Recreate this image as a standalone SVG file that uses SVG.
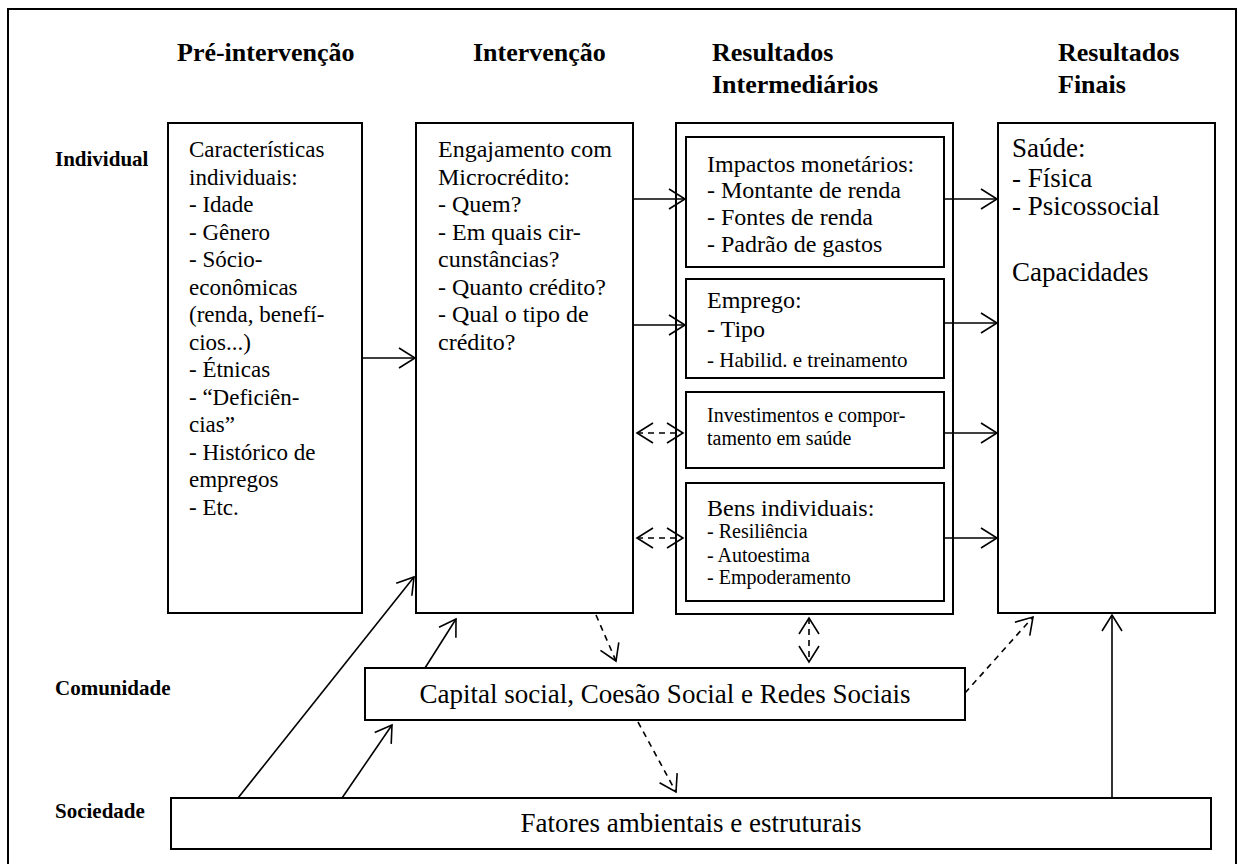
<svg xmlns="http://www.w3.org/2000/svg" width="1238" height="864" viewBox="0 0 1238 864">
<style>
text{font-family:"Liberation Serif","Times New Roman",Tinos,"DejaVu Serif","Noto Serif",serif;fill:#000}
.box{fill:#fff;stroke:#000;stroke-width:2}
.hd{font-weight:bold;font-size:26px}
.rl{font-weight:bold;font-size:21px}
.t{font-size:23px}
.m{font-size:24px}
.s{font-size:20px}
.l{font-size:27px}
.c{fill:none;stroke:#000;stroke-width:1.6}
.d{fill:none;stroke:#000;stroke-width:1.6;stroke-dasharray:6 5}
</style>
<defs>
<marker id="ah" markerUnits="userSpaceOnUse" markerWidth="20" markerHeight="24" refX="17" refY="11" orient="auto-start-reverse" viewBox="0 0 20 22">
<path d="M1,1 L17,11 L1,21" fill="none" stroke="#000" stroke-width="1.6"/>
</marker>
</defs>
<rect x="8" y="9" width="1228" height="870" fill="#fff" stroke="#000" stroke-width="2"/>

<g id="headers">
<text class="hd" x="177" y="61">Pré-intervenção</text>
<text class="hd" x="473" y="61">Intervenção</text>
<text class="hd" x="712" y="61">Resultados</text>
<text class="hd" x="712" y="93">Intermediários</text>
<text class="hd" x="1058" y="61">Resultados</text>
<text class="hd" x="1058" y="93">Finais</text>
</g>
<g id="row-labels">
<text class="rl" x="55" y="166">Individual</text>
<text class="rl" x="55" y="695">Comunidade</text>
<text class="rl" x="55" y="818">Sociedade</text>
</g>

<g id="pre">
<rect class="box" x="168" y="123" width="194" height="490"/>
<text class="t">
<tspan x="189" y="157">Características</tspan>
<tspan x="189" y="184.5">individuais:</tspan>
<tspan x="189" y="212">- Idade</tspan>
<tspan x="189" y="239.5">- Gênero</tspan>
<tspan x="189" y="267">- Sócio-</tspan>
<tspan x="189" y="294.5">econômicas</tspan>
<tspan x="189" y="322">(renda, benefí-</tspan>
<tspan x="189" y="349.5">cios...)</tspan>
<tspan x="189" y="377">- Étnicas</tspan>
<tspan x="189" y="404.5">- “Deficiên-</tspan>
<tspan x="189" y="432">cias”</tspan>
<tspan x="189" y="459.5">- Histórico de</tspan>
<tspan x="189" y="487">empregos</tspan>
<tspan x="189" y="514.5">- Etc.</tspan>
</text>
</g>

<g id="intervencao">
<rect class="box" x="416" y="123" width="217" height="490"/>
<text class="m">
<tspan x="438" y="157">Engajamento com</tspan>
<tspan x="438" y="184.5">Microcrédito:</tspan>
<tspan x="438" y="212">- Quem?</tspan>
<tspan x="438" y="239.5">- Em quais cir-</tspan>
<tspan x="438" y="267">cunstâncias?</tspan>
<tspan x="438" y="294.5">- Quanto crédito?</tspan>
<tspan x="438" y="322">- Qual o tipo de</tspan>
<tspan x="438" y="349.5">crédito?</tspan>
</text>
</g>

<g id="intermediarios">
<rect class="box" x="676" y="123" width="277" height="491"/>
</g>
<g id="impactos">
<rect class="box" x="686" y="137" width="258" height="130"/>
<text class="m">
<tspan x="707" y="172">Impactos monetários:</tspan>
<tspan x="707" y="198">- Montante de renda</tspan>
<tspan x="707" y="225">- Fontes de renda</tspan>
<tspan x="707" y="252">- Padrão de gastos</tspan>
</text>
</g>
<g id="emprego">
<rect class="box" x="686" y="279" width="258" height="99"/>
<text class="m">
<tspan x="707" y="308">Emprego:</tspan>
<tspan x="707" y="337">- Tipo</tspan>
</text>
<text class="s" x="707" y="367" style="font-size:21px">- Habilid. e treinamento</text>
</g>
<g id="investimentos">
<rect class="box" x="686" y="392" width="258" height="76"/>
<text class="s">
<tspan x="707" y="422">Investimentos e compor-</tspan>
<tspan x="707" y="445">tamento em saúde</tspan>
</text>
</g>
<g id="bens">
<rect class="box" x="686" y="483" width="258" height="118"/>
<text class="m" x="707" y="516">Bens individuais:</text>
<text class="s">
<tspan x="707" y="538">- Resiliência</tspan>
<tspan x="707" y="562">- Autoestima</tspan>
<tspan x="707" y="584">- Empoderamento</tspan>
</text>
</g>

<g id="finais">
<rect class="box" x="998" y="123" width="217" height="490"/>
<text class="l">
<tspan x="1012" y="157">Saúde:</tspan>
<tspan x="1012" y="187">- Física</tspan>
<tspan x="1012" y="215">- Psicossocial</tspan>
<tspan x="1012" y="281">Capacidades</tspan>
</text>
</g>

<g id="capital">
<rect class="box" x="365" y="668" width="600" height="52"/>
<text class="l" x="665" y="703" text-anchor="middle">Capital social, Coesão Social e Redes Sociais</text>
</g>
<g id="fatores">
<rect class="box" x="171" y="798" width="1040" height="51"/>
<text class="l" x="691" y="832" text-anchor="middle">Fatores ambientais e estruturais</text>
</g>

<g id="connectors">
<line class="c" x1="362" y1="358" x2="415" y2="358" marker-end="url(#ah)"/>
<line class="c" x1="633" y1="199" x2="685" y2="199" marker-end="url(#ah)"/>
<line class="c" x1="633" y1="325" x2="685" y2="325" marker-end="url(#ah)"/>
<line class="d" x1="637" y1="433" x2="683" y2="433" marker-start="url(#ah)" marker-end="url(#ah)"/>
<line class="d" x1="637" y1="538" x2="683" y2="538" marker-start="url(#ah)" marker-end="url(#ah)"/>
<line class="c" x1="944" y1="199" x2="997" y2="199" marker-end="url(#ah)"/>
<line class="c" x1="944" y1="323" x2="997" y2="323" marker-end="url(#ah)"/>
<line class="c" x1="944" y1="433" x2="997" y2="433" marker-end="url(#ah)"/>
<line class="c" x1="944" y1="538" x2="997" y2="538" marker-end="url(#ah)"/>
<line class="c" x1="238" y1="798" x2="414" y2="577" marker-end="url(#ah)"/>
<line class="c" x1="342" y1="798" x2="392" y2="725" marker-end="url(#ah)"/>
<line class="c" x1="425" y1="668" x2="456" y2="619" marker-end="url(#ah)"/>
<line class="d" x1="596" y1="615" x2="616" y2="661" marker-end="url(#ah)"/>
<line class="d" x1="809" y1="618" x2="809" y2="662" marker-start="url(#ah)" marker-end="url(#ah)"/>
<line class="d" x1="965" y1="693" x2="1033" y2="617" marker-end="url(#ah)"/>
<line class="d" x1="638" y1="722" x2="676" y2="792" marker-end="url(#ah)"/>
<line class="c" x1="1112" y1="798" x2="1112" y2="615" marker-end="url(#ah)"/>
</g>
</svg>
